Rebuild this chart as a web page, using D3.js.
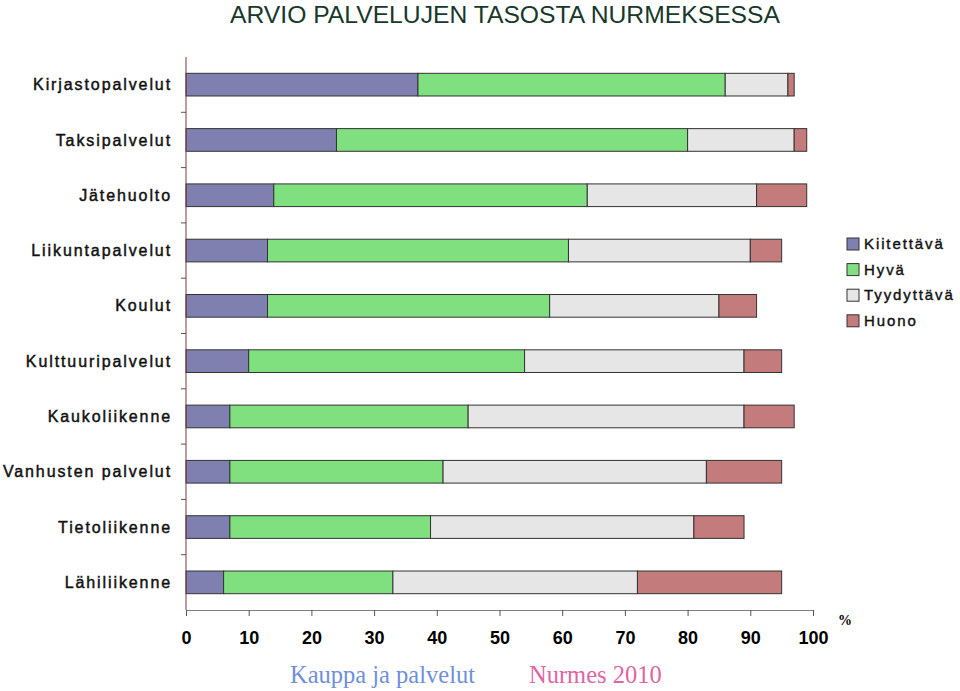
<!DOCTYPE html>
<html><head><meta charset="utf-8">
<script src="https://cdn.jsdelivr.net/npm/d3@7"></script>
<style>body{margin:0;background:#fff}svg{display:block}</style>
</head><body>
<script>
const categories = ["Kirjastopalvelut","Taksipalvelut","Jätehuolto","Liikuntapalvelut","Koulut","Kulttuuripalvelut","Kaukoliikenne","Vanhusten palvelut","Tietoliikenne","Lähiliikenne"];
const seriesNames = ["Kiitettävä","Hyvä","Tyydyttävä","Huono"];
const kiitettava = [37,24,14,13,13,10,7,7,7,6];
const hyva       = [49,56,50,48,45,44,38,34,32,27];
const tyydyttava = [10,17,27,29,27,35,44,42,42,39];
const huono      = [1,2,8,5,6,6,8,12,8,23];
const xTicks = [0,10,20,30,40,50,60,70,80,90,100];
const colors = ["#8080b0","#80e080","#e6e6e6","#c47b7b"];

(function(){
const W=960,H=691;
const svg=d3.select("body").append("svg").attr("width",W).attr("height",H);
const mLeft=186,mRight=813,mTop=57,mBottom=610;
const x=d3.scaleLinear().domain([0,100]).range([mLeft,mRight]);
const y=d3.scaleBand().domain(categories).range([mTop,mBottom]).paddingInner(0.59).paddingOuter(0.295);

const data=categories.map((c,i)=>({cat:c,"Kiitettävä":kiitettava[i],"Hyvä":hyva[i],"Tyydyttävä":tyydyttava[i],"Huono":huono[i]}));
const stacked=d3.stack().keys(seriesNames)(data);

svg.append("text").attr("x",505).attr("y",23).attr("text-anchor","middle")
  .attr("font-family","Liberation Sans Narrow, Arial Narrow, Liberation Sans, Arial").attr("font-size",23)
  .attr("fill","#17382a").attr("textLength",550).attr("lengthAdjust","spacingAndGlyphs")
  .text("ARVIO PALVELUJEN TASOSTA NURMEKSESSA");

stacked.forEach((s,si)=>{
  svg.append("g").selectAll("rect").data(s).join("rect")
    .attr("x",d=>x(d[0])).attr("width",d=>x(d[1])-x(d[0]))
    .attr("y",d=>y(d.data.cat)).attr("height",y.bandwidth())
    .attr("fill",colors[si]).attr("stroke","#333").attr("stroke-width",1);
});

// y axis
const band=(mBottom-mTop)/categories.length;
svg.append("line").attr("x1",mLeft).attr("x2",mLeft).attr("y1",mTop).attr("y2",mBottom).attr("stroke","#7a3a3a").attr("stroke-width",1);
d3.range(1,categories.length).forEach(i=>{
  svg.append("line").attr("x1",mLeft-5).attr("x2",mLeft).attr("y1",mTop+band*i).attr("y2",mTop+band*i).attr("stroke","#555");
});
svg.append("g").selectAll("text").data(categories).join("text")
  .attr("x",172).attr("y",d=>y(d)+y.bandwidth()/2).attr("dy","0.35em").attr("text-anchor","end")
  .attr("font-family","Liberation Sans, Arial").attr("font-size",16).attr("letter-spacing","1.9px")
  .attr("fill","#111").attr("stroke","#111").attr("stroke-width",0.45)
  .text(d=>d);

// x axis
const xa=svg.append("g").attr("transform",`translate(0,${mBottom})`)
  .call(d3.axisBottom(x).tickValues(xTicks).tickSize(6).tickFormat(d3.format("d")));
xa.select(".domain").attr("stroke","#8a7a7a");
xa.selectAll(".tick line").attr("stroke","#555");
xa.selectAll("text").attr("y",21).attr("dy","0.71em").attr("font-family","Liberation Sans, Arial").attr("font-size",18).attr("font-weight","bold").attr("fill","#000");
svg.append("text").attr("x",845).attr("y",625).attr("text-anchor","middle").attr("font-family","Liberation Serif, Times New Roman").attr("font-size",14).attr("font-weight","bold").text("%");

// legend
const lg=svg.append("g");
seriesNames.forEach((n,i)=>{
  const yy=244+i*25.6;
  lg.append("rect").attr("x",847).attr("y",yy-6).attr("width",12).attr("height",12).attr("fill",colors[i]).attr("stroke","#333");
  lg.append("text").attr("x",864).attr("y",yy).attr("dy","0.35em").attr("font-family","Liberation Sans, Arial").attr("font-size",15)
    .attr("letter-spacing","1.9px").attr("fill","#111").attr("stroke","#111").attr("stroke-width",0.4).text(n);
});

// footer
svg.append("text").attr("x",290).attr("y",683).attr("font-family","Liberation Serif, Times New Roman").attr("font-size",24.5).attr("fill","#6f8fdb").text("Kauppa ja palvelut");
svg.append("text").attr("x",529).attr("y",683).attr("font-family","Liberation Serif, Times New Roman").attr("font-size",24.5).attr("fill","#e064a4").text("Nurmes 2010");
})();
</script>
</body></html>
